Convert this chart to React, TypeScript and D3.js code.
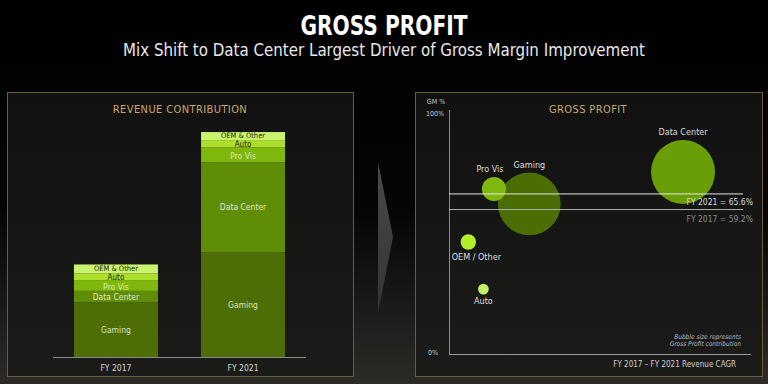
import React from "react";
import * as d3 from "d3";

const W = 768;
const H = 384;
const FONT = "'Liberation Sans Narrow', 'DejaVu Sans Condensed', Roboto, sans-serif";

// ---- revenue contribution ($B) ----
const years = ["FY 2017", "FY 2021"];
const segments = ["Gaming", "Data Center", "Pro Vis", "Auto", "OEM & Other"];
const rev2017 = [4.06, 0.85, 0.8, 0.5, 0.66];
const rev2021 = [7.76, 6.7, 1.1, 0.54, 0.6];
const segColors = ["#4d6e06", "#5f8d07", "#7fb70d", "#acdf2c", "#c9f36e"];
const segText = ["#d6e2c2", "#dfe8cf", "#d9ecaa", "#1a2200", "#222a10"];
const segFont = [8.5, 8.5, 8.5, 8, 7.5];

// ---- gross profit bubbles ----
const bubbleNames = ["Gaming", "Data Center", "Pro Vis", "Auto", "OEM / Other"];
const bubbleCagr = [17.6, 68.5, 5.9, 2.4, -2.6]; // %
const bubbleGm = [61.5, 74.6, 67.6, 26.6, 45.9]; // %
const bubbleGp = [4.8, 5.0, 0.71, 0.14, 0.29]; // $B gross profit
const bubbleColors = ["#4a6e04", "#6a9e08", "#80b80e", "#c2f066", "#b3ee2a"];
const gm2021 = 65.6;
const gm2017 = 59.2;

function RevenuePanel() {
  const x = d3.scaleBand<string>().domain(years).range([53, 306]).paddingInner(0.339).paddingOuter(0.165);
  const y = d3.scaleLinear().domain([0, 20]).range([357, 87.6]);
  const rows = years.map((yr, j) => {
    const obj: any = { year: yr };
    segments.forEach((s, i) => (obj[s] = j === 0 ? rev2017[i] : rev2021[i]));
    return obj;
  });
  const stack = d3.stack().keys(segments)(rows);
  return (
    <g>
      <rect x={7.5} y={92.5} width={346} height={284} fill="url(#panelGrad)" stroke="#6a5d3e" strokeWidth={1} />
      <text x={180} y={113} textAnchor="middle" fill="#c9a86a" fontSize={11} fontFamily={FONT} letterSpacing={0.4}>
        REVENUE CONTRIBUTION
      </text>
      {stack.map((layer, i) =>
        layer.map((d, j) => {
          const x0 = x(years[j])!;
          const y0 = y(d[1]);
          const h = y(d[0]) - y(d[1]);
          const fs = segFont[i];
          // small top labels sit slightly apart, as on the slide
          const shift = segments[i] === "Pro Vis" ? 1.5 : segments[i] === "Auto" ? 0.5 : segments[i] === "OEM & Other" ? -0.5 : 0;
          return (
            <g key={`${i}-${j}`}>
              <rect x={x0} y={y0} width={x.bandwidth()} height={h} fill={segColors[i]} />
              <text
                x={x0 + x.bandwidth() / 2}
                y={y0 + h / 2 + fs * 0.36 + shift}
                textAnchor="middle"
                fill={segText[i]}
                fontSize={fs}
                fontFamily={FONT}
              >
                {segments[i]}
              </text>
            </g>
          );
        })
      )}
      <line x1={53} x2={306} y1={357.5} y2={357.5} stroke="#8a8a8a" strokeWidth={1} />
      {years.map((yr) => (
        <text key={yr} x={x(yr)! + x.bandwidth() / 2} y={371} textAnchor="middle" fill="#d8d8d8" fontSize={8.5} fontFamily={FONT}>
          {yr}
        </text>
      ))}
    </g>
  );
}

function BubblePanel() {
  const x = d3.scaleLinear().domain([-9, 91]).range([449, 751]);
  const y = d3.scaleLinear().domain([0, 100]).range([354, 110]);
  const r = d3.scaleSqrt().domain([0, 5]).range([0, 32]);
  const order = d3.range(bubbleNames.length);
  return (
    <g>
      <rect x={415.5} y={92.5} width={347} height={284} fill="url(#panelGrad)" stroke="#6a5d3e" strokeWidth={1} />
      <text x={588} y={113} textAnchor="middle" fill="#c9a86a" fontSize={11} fontFamily={FONT} letterSpacing={0.4}>
        GROSS PROFIT
      </text>
      <text x={436} y={104} textAnchor="middle" fill="#c8c8c8" fontSize={7} fontFamily={FONT}>GM %</text>
      <text x={444} y={116} textAnchor="end" fill="#c8c8c8" fontSize={7} fontFamily={FONT}>100%</text>
      <text x={438} y={355} textAnchor="end" fill="#c8c8c8" fontSize={7} fontFamily={FONT}>0%</text>
      <line x1={449.5} x2={449.5} y1={y(100)} y2={y(0)} stroke="#8a8a8a" strokeWidth={1} />
      <line x1={449} x2={x(91)} y1={y(0) + 0.5} y2={y(0) + 0.5} stroke="#9a9a9a" strokeWidth={1} />
      {order.map((i) => (
        <circle key={i} cx={x(bubbleCagr[i])} cy={y(bubbleGm[i])} r={r(bubbleGp[i])} fill={bubbleColors[i]} />
      ))}
      <line x1={449} x2={743} y1={y(gm2021)} y2={y(gm2021)} stroke="#e6e6e6" strokeWidth={1} />
      <line x1={449} x2={743} y1={y(gm2017)} y2={y(gm2017)} stroke="#b0b0b0" strokeWidth={1} />
      <text x={753} y={y(gm2021) + 11} textAnchor="end" fill="#dcdcdc" fontSize={8.5} fontFamily={FONT}>
        {`FY 2021 = ${gm2021}%`}
      </text>
      <text x={753} y={y(gm2017) + 12} textAnchor="end" fill="#8a8a8a" fontSize={8.5} fontFamily={FONT}>
        {`FY 2017 = ${gm2017}%`}
      </text>
      {order.map((i) => {
        const cx = x(bubbleCagr[i]);
        const cy = y(bubbleGm[i]);
        const rr = r(bubbleGp[i]);
        const below = bubbleGm[i] < 50;
        const dx = bubbleNames[i] === "Pro Vis" ? -4 : bubbleNames[i] === "OEM / Other" ? 8 : 0;
        return (
          <text
            key={i}
            x={cx + dx}
            y={below ? cy + rr + 10 : cy - rr - 5}
            textAnchor="middle"
            fill="#dedede"
            fontSize={9}
            fontFamily={FONT}
          >
            {bubbleNames[i]}
          </text>
        );
      })}
      <text x={741} y={339} textAnchor="end" fill="#bdbdbd" fontSize={6.5} fontStyle="italic" fontFamily={FONT}>
        Bubble size represents
      </text>
      <text x={741} y={346} textAnchor="end" fill="#bdbdbd" fontSize={6.5} fontStyle="italic" fontFamily={FONT}>
        Gross Profit contribution
      </text>
      <text x={736} y={367} textAnchor="end" fill="#d0d0d0" fontSize={8} fontFamily={FONT}>
        FY 2017 – FY 2021 Revenue CAGR
      </text>
    </g>
  );
}

export default function App() {
  return (
    <svg width={W} height={H} style={{ position: "absolute", left: 0, top: 0, background: "#000" }}>
      <defs>
        <linearGradient id="bgGrad" x1="0" y1="0" x2="0" y2="1">
          <stop offset="0" stopColor="#000" />
          <stop offset="0.55" stopColor="#050505" />
          <stop offset="1" stopColor="#2c2b28" />
        </linearGradient>
        <linearGradient id="panelGrad" x1="0" y1="0" x2="0" y2="1">
          <stop offset="0" stopColor="#111111" />
          <stop offset="1" stopColor="#1b1b1a" />
        </linearGradient>
        <linearGradient id="arrowGrad" x1="0" y1="0" x2="0" y2="1">
          <stop offset="0" stopColor="#4a4a4a" />
          <stop offset="1" stopColor="#333333" />
        </linearGradient>
      </defs>
      <rect width={W} height={H} fill="url(#bgGrad)" />
      <text x={384} y={35} textAnchor="middle" fill="#fff" fontSize={27} fontWeight="bold" fontFamily={FONT} textLength={167} lengthAdjust="spacingAndGlyphs">
        GROSS PROFIT
      </text>
      <text x={384} y={56} textAnchor="middle" fill="#e8e8e8" fontSize={17} fontFamily={FONT} textLength={522} lengthAdjust="spacingAndGlyphs">
        Mix Shift to Data Center Largest Driver of Gross Margin Improvement
      </text>
      <RevenuePanel />
      <path d="M378,162 L393,237 L378,313 Z" fill="url(#arrowGrad)" />
      <BubblePanel />
    </svg>
  );
}
